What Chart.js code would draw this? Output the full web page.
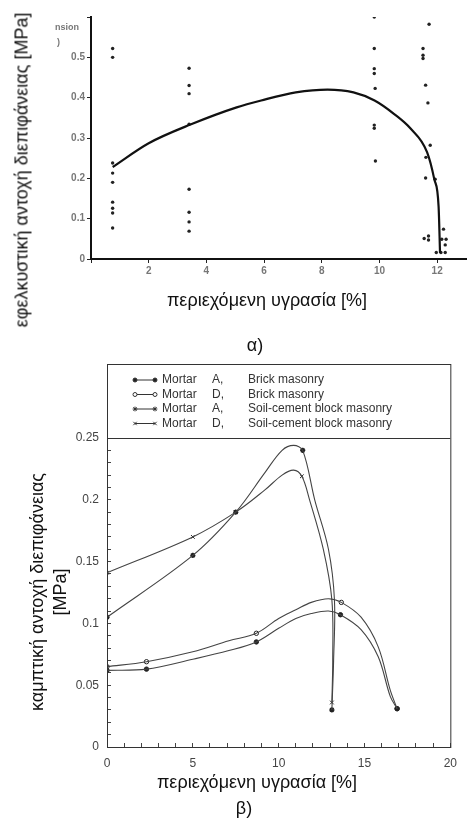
<!DOCTYPE html>
<html>
<head>
<meta charset="utf-8">
<title>αντοχή διεπιφάνειας</title>
<script src="https://cdn.jsdelivr.net/npm/chart.js@4.4.1/dist/chart.umd.min.js"></script>
<style>
  body { margin: 0; background: #fff; font-family: "Liberation Sans", Arial, sans-serif; }
  #wrap { position: relative; width: 470px; height: 822px; overflow: hidden; }
  canvas { position: absolute; left: 0; }
  .lbl { position: absolute; color: #111; font-size: 18px; white-space: nowrap; transform: translate(-50%, -50%); }
  .rot { transform: translate(-50%, -50%) rotate(-90deg); text-align: center; }
  .small { position: absolute; color: #777; font-size: 9px; font-weight: bold; }
</style>
</head>
<body>
<div id="wrap">
  <canvas id="chartA" width="470" height="300" style="top:0"></canvas>
  <canvas id="chartB" width="470" height="440" style="top:340px"></canvas>

  <div class="small" style="left:55px; top:22px">nsion</div>
  <div class="small" style="left:57px; top:37px">)</div>
  <div class="lbl rot" style="left:22px; top:170px">εφελκυστική αντοχή διεπιφάνειας [MPa]</div>
  <div class="lbl" style="left:267px; top:300px">περιεχόμενη υγρασία [%]</div>
  <div class="lbl" style="left:255px; top:345px">α)</div>

  <div class="lbl rot" style="left:49px; top:592px; line-height:23px">καμπτική αντοχή διεπιφάνειας<br>[MPa]</div>
  <div class="lbl" style="left:257px; top:782px">περιεχόμενη υγρασία [%]</div>
  <div class="lbl" style="left:244px; top:808px">β)</div>
</div>

<script>
// ---- α) tension test points (moisture %, MPa)
const dotX = [0.75, 0.75, 0.75, 0.75, 0.75, 0.75, 0.75, 0.75, 0.75,
  3.4, 3.4, 3.4, 3.4, 3.4, 3.4, 3.4, 3.4,
  9.82, 9.82, 9.82, 9.82, 9.85, 9.82, 9.82, 9.86,
  11.51, 11.51, 11.51, 11.72, 11.6, 11.68, 11.76, 11.61, 11.6, 11.93,
  11.55, 11.7, 11.7, 12.22, 12.16, 12.31, 12.28, 11.97, 12.13, 12.28];
const dotY = [0.522, 0.50, 0.238, 0.213, 0.19, 0.141, 0.126, 0.114, 0.077,
  0.473, 0.43, 0.41, 0.334, 0.173, 0.116, 0.092, 0.069,
  0.60, 0.522, 0.472, 0.46, 0.423, 0.332, 0.324, 0.243,
  0.522, 0.505, 0.497, 0.582, 0.431, 0.387, 0.282, 0.252, 0.201, 0.198,
  0.051, 0.057, 0.047, 0.074, 0.049, 0.049, 0.035, 0.016, 0.016, 0.016];

// fitted curve as drawn in the figure
const fitX = [0.75, 2, 3.47, 5.05, 5.9, 7.1, 8.2, 9.1, 9.83, 10.5, 11.07, 11.65, 11.9, 12.05, 12.1];
const fitY = [0.228, 0.287, 0.334, 0.376, 0.393, 0.413, 0.42, 0.413, 0.393, 0.36, 0.324, 0.265, 0.198, 0.13, 0.015];

// ---- β) bond strength curves
const brickA_x = [0, 2.3, 5, 7.1, 8.7, 10, 11, 11.9, 12.9, 13.6, 14.8, 15.8, 16.5, 16.9];
const brickA_y = [0.062, 0.063, 0.071, 0.078, 0.085, 0.096, 0.104, 0.108, 0.110, 0.107, 0.095, 0.073, 0.041, 0.031];
const brickD_x = [0, 2.3, 5, 7.1, 8.7, 10, 11, 11.9, 12.9, 13.65, 14.8, 15.8, 16.5, 16.9];
const brickD_y = [0.065, 0.069, 0.077, 0.086, 0.092, 0.104, 0.111, 0.117, 0.120, 0.117, 0.105, 0.081, 0.046, 0.031];
const soilA_x = [0, 5, 7.5, 9.2, 10.2, 10.87, 11.4, 12.1, 12.9, 13.25, 13.2, 13.1];
const soilA_y = [0.105, 0.155, 0.19, 0.222, 0.24, 0.244, 0.240, 0.2, 0.16, 0.119, 0.07, 0.03];
const soilD_x = [0, 5, 7.5, 9.2, 10.2, 10.87, 11.35, 11.8, 12.6, 13.1, 13.15, 13.1];
const soilD_y = [0.141, 0.17, 0.19, 0.208, 0.22, 0.224, 0.219, 0.2, 0.16, 0.119, 0.07, 0.036];

// measured points (markers)
const brickA_mx = [0, 2.3, 8.7, 13.6, 16.9];
const brickA_my = [0.062, 0.063, 0.085, 0.107, 0.031];
const brickD_mx = [0, 2.3, 8.7, 13.65, 16.9];
const brickD_my = [0.065, 0.069, 0.092, 0.117, 0.031];
const soilA_mx = [0, 5, 7.5, 11.4, 13.1];
const soilA_my = [0.105, 0.155, 0.19, 0.240, 0.03];
const soilD_mx = [0, 5, 7.5, 11.35, 13.1];
const soilD_my = [0.141, 0.17, 0.19, 0.219, 0.036];

const legendMortar = ['A,', 'D,', 'A,', 'D,'];
const legendType = ['Brick masonry', 'Brick masonry', 'Soil-cement block masonry', 'Soil-cement block masonry'];
const markerStyles = ['circle', 'circle', 'star', 'crossRot'];
const markerFill = ['#222', '#fff', '#222', '#222'];

const pts = (xs, ys) => xs.map((x, i) => ({ x: x, y: ys[i] }));
const FONT = '"Liberation Sans", Arial, sans-serif';

// chart α
new Chart(document.getElementById('chartA'), {
  type: 'scatter',
  data: {
    datasets: [
      {
        data: pts(fitX, fitY), showLine: true, cubicInterpolationMode: 'monotone',
        borderColor: '#111', borderWidth: 2.2, pointRadius: 0
      },
      {
        data: pts(dotX, dotY), pointRadius: 1.7, backgroundColor: '#222', borderWidth: 0
      }
    ]
  },
  options: {
    responsive: false, animation: false,
    layout: { padding: { top: 17, right: 1 } },
    plugins: { legend: { display: false }, tooltip: { enabled: false } },
    scales: {
      x: {
        type: 'linear', min: 0, max: 13,
        ticks: {
          stepSize: 2, includeBounds: false, padding: 2, color: '#777',
          font: { family: FONT, size: 10, weight: 'bold' },
          callback: v => v === 0 ? '' : v
        },
        grid: { drawOnChartArea: false, tickLength: 4, color: '#222' },
        border: { color: '#111', width: 2 },
        afterFit: s => { s.height = 41; }
      },
      y: {
        min: 0, max: 0.6,
        ticks: {
          stepSize: 0.1, padding: 2, color: '#777',
          font: { family: FONT, size: 10, weight: 'bold' },
          callback: v => v > 0.55 ? '' : String(Math.round(v * 10) / 10)
        },
        grid: { drawOnChartArea: false, tickLength: 4, color: '#222' },
        border: { color: '#111', width: 2 },
        afterFit: s => { s.width = 91; }
      }
    }
  }
});

// frame + legend box above the plot area
const boxLegend = {
  id: 'boxLegend',
  afterDraw(chart) {
    const { ctx, chartArea: a } = chart;
    const top = a.top - 74;
    ctx.save();
    ctx.strokeStyle = '#333';
    ctx.lineWidth = 1;
    ctx.strokeRect(a.left + 0.5, top + 0.5, a.right - a.left, a.bottom - top);
    ctx.beginPath();
    ctx.moveTo(a.left, a.top + 0.5);
    ctx.lineTo(a.right, a.top + 0.5);
    ctx.stroke();

    ctx.font = '12px ' + FONT;
    ctx.textBaseline = 'middle';
    legendType.forEach((t, i) => {
      const y = top + 16 + i * 14.5;
      ctx.strokeStyle = '#333';
      ctx.lineWidth = 1;
      ctx.beginPath();
      ctx.moveTo(135, y);
      ctx.lineTo(155, y);
      ctx.stroke();
      ctx.fillStyle = markerFill[i];
      const opt = { pointStyle: markerStyles[i], radius: i < 2 ? 2 : 2.4, borderWidth: i === 2 ? 1.5 : 1, rotation: 0 };
      Chart.helpers.drawPoint(ctx, opt, 135, y);
      Chart.helpers.drawPoint(ctx, opt, 155, y);
      ctx.fillStyle = '#333';
      ctx.fillText('Mortar', 162, y);
      ctx.fillText(legendMortar[i], 212, y);
      ctx.fillText(t, 248, y);
    });
    ctx.restore();
  }
};

const curve = (xs, ys) => ({
  data: pts(xs, ys), showLine: true, tension: 0.35,
  borderColor: '#444', borderWidth: 1.1, pointRadius: 0
});
const marks = (xs, ys, i) => ({
  data: pts(xs, ys), pointStyle: markerStyles[i], pointRadius: i < 2 ? 2.2 : 2.6,
  backgroundColor: markerFill[i], borderColor: '#222', borderWidth: i === 2 ? 1.5 : 1
});

// chart β
new Chart(document.getElementById('chartB'), {
  type: 'scatter',
  data: {
    datasets: [
      curve(brickA_x, brickA_y), curve(brickD_x, brickD_y),
      curve(soilA_x, soilA_y), curve(soilD_x, soilD_y),
      marks(brickA_mx, brickA_my, 0), marks(brickD_mx, brickD_my, 1),
      marks(soilA_mx, soilA_my, 2), marks(soilD_mx, soilD_my, 3)
    ]
  },
  options: {
    responsive: false, animation: false,
    layout: { padding: { top: 98, right: 17 } },
    plugins: { legend: { display: false }, tooltip: { enabled: false } },
    scales: {
      x: {
        type: 'linear', min: 0, max: 20,
        ticks: {
          stepSize: 1, autoSkip: false, maxRotation: 0, padding: 13, color: '#444',
          font: { family: FONT, size: 12 },
          callback: v => v % 5 === 0 ? v : ''
        },
        grid: { drawOnChartArea: false, tickLength: -4, color: '#444' },
        border: { color: '#333', width: 1 },
        afterFit: s => { s.height = 33; }
      },
      y: {
        min: 0, max: 0.25,
        ticks: {
          stepSize: 0.01, autoSkip: false, padding: 12, color: '#444',
          font: { family: FONT, size: 12 },
          callback: v => Math.abs(v * 20 - Math.round(v * 20)) < 1e-6 ? String(Math.round(v * 100) / 100) : ''
        },
        grid: { drawOnChartArea: false, tickLength: -4, color: '#444' },
        border: { color: '#333', width: 1 },
        afterFit: s => { s.width = 107; }
      }
    }
  },
  plugins: [boxLegend]
});
</script>
</body>
</html>
